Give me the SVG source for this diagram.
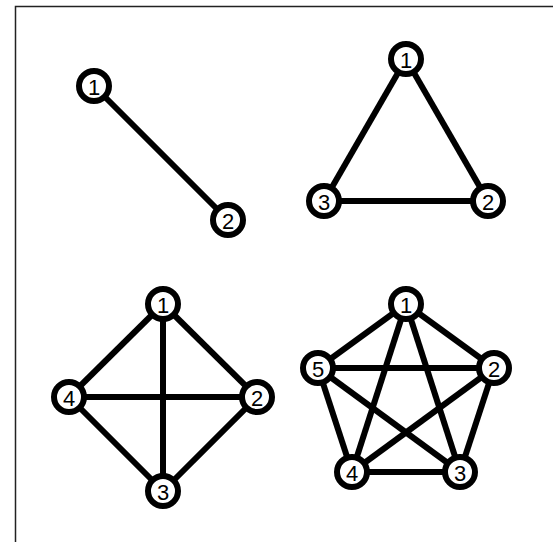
<svg xmlns="http://www.w3.org/2000/svg" width="553" height="542" viewBox="0 0 553 542">
<style>
.edge{stroke:#000;stroke-width:6;stroke-linecap:butt;fill:none}
.node circle{fill:#fff;stroke:#000;stroke-width:6}
.node text{font-family:"Liberation Sans",Arial,sans-serif;font-size:22px;fill:#000;text-anchor:middle;dominant-baseline:central}
.frame{fill:none;stroke:#222;stroke-width:1.5}
</style>
<rect class="frame" x="15.5" y="6.5" width="600" height="600"/>
<g id="connectors">
<line class="edge" x1="94" y1="86" x2="228" y2="220"/>
<line class="edge" x1="406" y1="59" x2="488" y2="201"/>
<line class="edge" x1="406" y1="59" x2="324" y2="201"/>
<line class="edge" x1="324" y1="201" x2="488" y2="201"/>
<line class="edge" x1="163" y1="304" x2="257" y2="397"/>
<line class="edge" x1="163" y1="304" x2="69" y2="397"/>
<line class="edge" x1="163" y1="304" x2="163" y2="491"/>
<line class="edge" x1="69" y1="397" x2="257" y2="397"/>
<line class="edge" x1="69" y1="397" x2="163" y2="491"/>
<line class="edge" x1="257" y1="397" x2="163" y2="491"/>
<line class="edge" x1="406" y1="304" x2="494" y2="368"/>
<line class="edge" x1="406" y1="304" x2="318" y2="368"/>
<line class="edge" x1="406" y1="304" x2="352" y2="472"/>
<line class="edge" x1="406" y1="304" x2="460" y2="472"/>
<line class="edge" x1="318" y1="368" x2="494" y2="368"/>
<line class="edge" x1="318" y1="368" x2="352" y2="472"/>
<line class="edge" x1="318" y1="368" x2="460" y2="472"/>
<line class="edge" x1="494" y1="368" x2="352" y2="472"/>
<line class="edge" x1="494" y1="368" x2="460" y2="472"/>
<line class="edge" x1="352" y1="472" x2="460" y2="472"/>
</g>
<g id="k2-1" class="node"><circle cx="94" cy="86" r="15"/><text x="94" y="87">1</text></g>
<g id="k2-2" class="node"><circle cx="228" cy="220" r="15"/><text x="228" y="221">2</text></g>
<g id="k3-1" class="node"><circle cx="406" cy="59" r="15"/><text x="406" y="60">1</text></g>
<g id="k3-2" class="node"><circle cx="488" cy="201" r="15"/><text x="488" y="202">2</text></g>
<g id="k3-3" class="node"><circle cx="324" cy="201" r="15"/><text x="324" y="202">3</text></g>
<g id="k4-1" class="node"><circle cx="163" cy="304" r="15"/><text x="163" y="305">1</text></g>
<g id="k4-2" class="node"><circle cx="257" cy="397" r="15"/><text x="257" y="398">2</text></g>
<g id="k4-3" class="node"><circle cx="163" cy="491" r="15"/><text x="163" y="492">3</text></g>
<g id="k4-4" class="node"><circle cx="69" cy="397" r="15"/><text x="69" y="398">4</text></g>
<g id="k5-1" class="node"><circle cx="406" cy="304" r="15"/><text x="406" y="305">1</text></g>
<g id="k5-2" class="node"><circle cx="494" cy="368" r="15"/><text x="494" y="369">2</text></g>
<g id="k5-3" class="node"><circle cx="460" cy="472" r="15"/><text x="460" y="473">3</text></g>
<g id="k5-4" class="node"><circle cx="352" cy="472" r="15"/><text x="352" y="473">4</text></g>
<g id="k5-5" class="node"><circle cx="318" cy="368" r="15"/><text x="318" y="369">5</text></g>
</svg>
